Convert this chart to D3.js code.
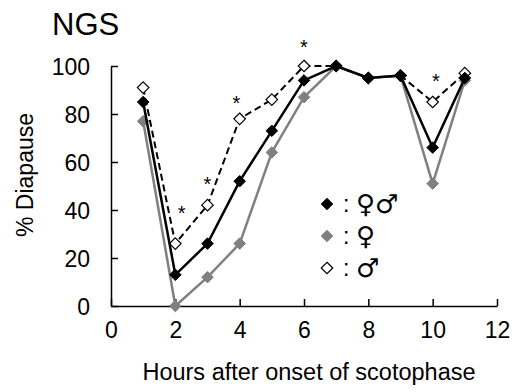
<!DOCTYPE html>
<html>
<head>
<meta charset="utf-8">
<script src="https://cdn.jsdelivr.net/npm/d3@7"></script>
<style>
  body { margin: 0; background: #fff; }
  text { font-family: "Liberation Sans", Arial, sans-serif; fill: #000; }
</style>
</head>
<body>
<div id="chart"></div>
<script>
// data
var hours = [1, 2, 3, 4, 5, 6, 7, 8, 9, 10, 11];
var both   = [85, 13, 26, 52, 73, 94, 100, 95, 96, 66, 95];
var female = [77, 0, 12, 26, 64, 87, 100, 95, 96, 51, 94];
var male   = [91, 26, 42, 78, 86, 100, 100, 95, 96, 85, 97];

// significance stars (hour, height in % units)
var starHours = [2.2, 3, 3.9, 6, 10.1];
var starVals  = [40, 52, 86, 109, 95];

var xTicks = [0, 2, 4, 6, 8, 10, 12];
var yTicks = [0, 20, 40, 60, 80, 100];

var legendMarks = ['both', 'female', 'male'];
var legendLabels = ['\u2640\u2642', '\u2640', '\u2642'];

var W = 518, H = 392;
var margin = {top: 66, right: 21, bottom: 86, left: 111};
var width = W - margin.left - margin.right;
var height = H - margin.top - margin.bottom;

var svg = d3.select('#chart').append('svg')
    .attr('width', W)
    .attr('height', H);

var g = svg.append('g')
    .attr('transform', 'translate(' + margin.left + ',' + margin.top + ')');

var xScale = d3.scaleLinear().domain([0, 12]).range([0, width]);
var yScale = d3.scaleLinear().domain([0, 100]).range([height, 0]);

// axes, ticks pointing inward
var xAxis = d3.axisBottom(xScale).tickValues(xTicks).tickSizeInner(-7).tickSizeOuter(0).tickPadding(16);
var yAxis = d3.axisLeft(yScale).tickValues(yTicks).tickSizeInner(-7).tickSizeOuter(0).tickPadding(21);

var gx = g.append('g')
    .attr('transform', 'translate(0,' + height + ')')
    .call(xAxis);
var gy = g.append('g').call(yAxis);

[gx, gy].forEach(function(ax){
    ax.select('.domain').attr('stroke', '#000').attr('stroke-width', 1.5);
    ax.selectAll('.tick line').attr('stroke', '#000').attr('stroke-width', 1.5);
    ax.selectAll('.tick text')
      .style('font-family', '"Liberation Sans", Arial, sans-serif')
      .style('font-size', '23px')
      .attr('fill', '#000');
});
gy.selectAll('.tick text').attr('dy', '0.36em');
gx.selectAll('.tick text').attr('dy', '0.71em');

var line = d3.line()
    .x(function(d, i){ return xScale(hours[i]); })
    .y(function(d){ return yScale(d); });

var diamond = d3.symbol().type(d3.symbolDiamond2).size(85);

function drawSeries(vals, opts){
    var s = g.append('g');
    s.append('path')
      .datum(vals)
      .attr('fill', 'none')
      .attr('stroke', opts.line)
      .attr('stroke-width', opts.lw)
      .attr('stroke-dasharray', opts.dash || null)
      .attr('d', line);
    s.selectAll('path.mk')
      .data(vals)
      .enter().append('path')
      .attr('class', 'mk')
      .attr('d', diamond)
      .attr('transform', function(d, i){
          return 'translate(' + xScale(hours[i]) + ',' + yScale(d) + ')';
      })
      .attr('fill', opts.fill)
      .attr('stroke', opts.stroke)
      .attr('stroke-width', opts.sw);
}

var styles = {
    female: {line: '#808080', lw: 2.5, fill: '#808080', stroke: '#808080', sw: 1},
    male:   {line: '#000', lw: 2, dash: '7,4', fill: '#fff', stroke: '#000', sw: 1.2},
    both:   {line: '#000', lw: 2.5, fill: '#000', stroke: '#000', sw: 1}
};

drawSeries(female, styles.female);
drawSeries(male, styles.male);
drawSeries(both, styles.both);

// stars
g.selectAll('text.star')
    .data(starVals)
    .enter().append('text')
    .attr('class', 'star')
    .attr('x', function(d, i){ return xScale(starHours[i]); })
    .attr('y', function(d){ return yScale(d) + 10; })
    .attr('text-anchor', 'middle')
    .style('font-size', '20px')
    .text('*');

// legend
var legY = d3.scaleLinear().domain([0, 2]).range([204, 268]);
var leg = svg.append('g');
legendMarks.forEach(function(k, i){
    var st = styles[k];
    leg.append('path')
      .attr('d', diamond)
      .attr('transform', 'translate(327,' + legY(i) + ')')
      .attr('fill', st.fill)
      .attr('stroke', st.stroke)
      .attr('stroke-width', st.sw);
    leg.append('text')
      .attr('x', 343)
      .attr('y', legY(i) + 8)
      .style('font-size', '23px')
      .text(':');
    leg.append('text')
      .attr('x', 356)
      .attr('y', legY(i) + 9)
      .style('font-family', '"DejaVu Sans", sans-serif')
      .style('font-size', '26px')
      .text(legendLabels[i]);
});

// title and axis labels
svg.append('text')
    .attr('x', 52)
    .attr('y', 35)
    .style('font-size', '31px')
    .text('NGS');

svg.append('text')
    .attr('x', 309)
    .attr('y', 380)
    .attr('text-anchor', 'middle')
    .style('font-size', '23.5px')
    .text('Hours after onset of scotophase');

svg.append('text')
    .attr('transform', 'translate(33,175) rotate(-90)')
    .attr('text-anchor', 'middle')
    .style('font-size', '23px')
    .text('% Diapause');
</script>
</body>
</html>
